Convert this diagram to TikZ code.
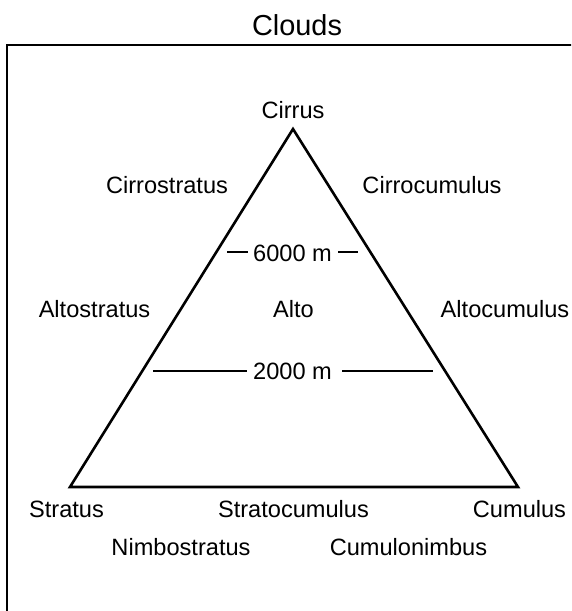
\documentclass[tikz,border=0pt]{standalone}
\usepackage{fontspec}
\setmainfont{Liberation Sans}
\begin{document}
\begin{tikzpicture}[x=1pt,y=-1pt,
  lbl/.style={inner sep=0pt,anchor=base,font=\fontsize{23.6}{28}\selectfont},
  tri/.style={line width=2.6pt,line join=miter},
  lvl/.style={line width=1.7pt}]
\useasboundingbox (0,0) rectangle (571,611);
\begin{scope}
\clip (0,0) rectangle (571,611);
\draw[line width=1.3pt] (7,45) rectangle (620,660);
\end{scope}
\node[inner sep=0pt,anchor=base,font=\fontsize{28.9}{34}\selectfont] (title) at (297,35) {Clouds};
\coordinate (top) at (293,129);
\coordinate (bl) at (70,487);
\coordinate (br) at (518,487);
\draw[tri] (top) -- (bl) -- (br) -- cycle;
\node[lbl] (cirrus) at (293,118) {Cirrus};
\node[lbl] (cirrostratus) at (167,193) {Cirrostratus};
\node[lbl] (cirrocumulus) at (432,193) {Cirrocumulus};
\node[lbl] (h6) at (292.5,261) {6000 m};
\coordinate (h6l) at (227,252);
\coordinate (h6r) at (358,252);
\draw[lvl] (h6l) -- (248,252);
\draw[lvl] (338,252) -- (h6r);
\node[lbl] (altostratus) at (94.5,317) {Altostratus};
\node[lbl] (alto) at (293.5,317) {Alto};
\node[lbl] (altocumulus) at (505,317) {Altocumulus};
\node[lbl] (h2) at (292.5,379) {2000 m};
\coordinate (h2l) at (153,371);
\coordinate (h2r) at (433,371);
\draw[lvl] (h2l) -- (247,371);
\draw[lvl] (342,371) -- (h2r);
\node[lbl] (stratus) at (66.5,517) {Stratus};
\node[lbl] (stratocumulus) at (293.5,517) {Stratocumulus};
\node[lbl] (cumulus) at (519.5,517) {Cumulus};
\node[lbl] (nimbostratus) at (181,555) {Nimbostratus};
\node[lbl] (cumulonimbus) at (408.5,555) {Cumulonimbus};
\end{tikzpicture}
\end{document}
